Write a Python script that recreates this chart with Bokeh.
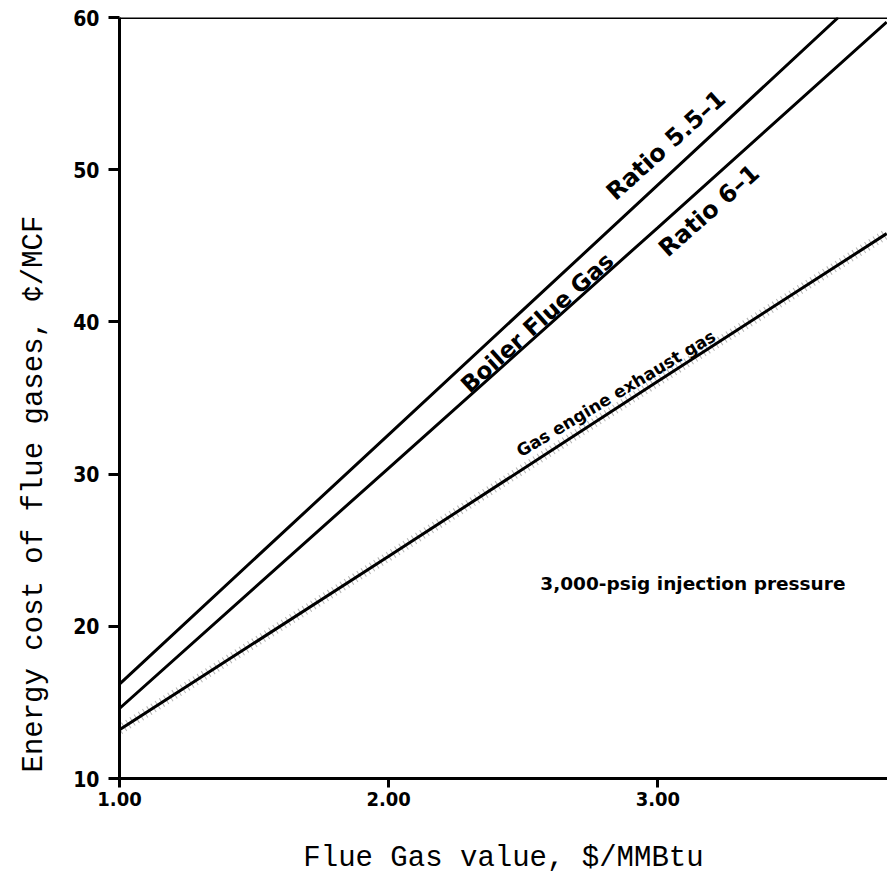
from bokeh.plotting import figure
from bokeh.models import Range1d, FixedTicker, Span, Label, Title, NumeralTickFormatter
from bokeh.embed import file_html
from bokeh.resources import INLINE

# ---- data ----
flue_gas_value = [1.0, 2.0, 3.0, 3.85]          # $/MMBtu
ratio_55_x = [1.0, 2.0, 3.0, 3.67]
ratio_55 = [16.2, 32.6, 49.0, 60.0]             # cents/MCF, Ratio 5.5-1
ratio_6 = [14.6, 30.4, 46.2, 59.7]              # cents/MCF, Ratio 6-1
gas_engine = [13.2, 24.6, 36.1, 45.8]           # cents/MCF, gas engine exhaust
x_ticks = [1.0, 2.0, 3.0]
y_ticks = [10, 20, 30, 40, 50, 60]

TICK_FONT = "'Liberation Sans Narrow', 'DejaVu Sans Condensed', 'Arial Narrow', sans-serif"
MONO = "'Liberation Mono', 'DejaVu Sans Mono', monospace"
ANN = "'DejaVu Sans', sans-serif"

p = figure(width=887, height=885,
           x_range=Range1d(1.0, 3.853), y_range=Range1d(10, 60),
           output_backend="svg", toolbar_location=None,
           min_border_left=118, min_border_right=0,
           min_border_top=17, min_border_bottom=107)
p.outline_line_color = None
p.grid.visible = False
p.background_fill_color = "white"
p.border_fill_color = "white"

# x axis
xa = p.xaxis[0]
xa.ticker = FixedTicker(ticks=x_ticks)
xa.formatter = NumeralTickFormatter(format="0.00")
xa.axis_line_width = 3
xa.major_tick_out = 9
xa.major_tick_in = 0
xa.major_tick_line_width = 3
xa.minor_tick_line_color = None
xa.major_label_text_font = TICK_FONT
xa.major_label_text_font_style = "bold"
xa.major_label_text_font_size = "20px"
xa.major_label_text_color = "black"
xa.major_label_standoff = 4
xa.axis_label = "Flue Gas value, $/MMBtu"
xa.axis_label_text_font = MONO
xa.axis_label_text_font_style = "normal"
xa.axis_label_text_font_size = "29px"
xa.axis_label_text_color = "black"
xa.axis_label_standoff = 33

# y axis
ya = p.yaxis[0]
ya.ticker = FixedTicker(ticks=y_ticks)
ya.axis_line_width = 3
ya.major_tick_out = 11
ya.major_tick_in = 0
ya.major_tick_line_width = 3
ya.minor_tick_line_color = None
ya.major_label_text_font = TICK_FONT
ya.major_label_text_font_style = "bold"
ya.major_label_text_font_size = "21px"
ya.major_label_text_color = "black"
ya.major_label_standoff = 9

# y-axis title, placed lower than the frame centre as in the reference
p.add_layout(Title(text="Energy cost of flue gases, \u00a2/MCF", align="left", offset=6,
                   standoff=35, vertical_align="top", text_font=MONO, text_font_style="normal",
                   text_font_size="29px", text_color="black"), "left")

# top border
p.add_layout(Span(location=60, dimension="width", line_color="black", line_width=3))

# lines
p.line(ratio_55_x, ratio_55, line_color="black", line_width=3)
p.line(flue_gas_value, ratio_6, line_color="black", line_width=3)
p.line(flue_gas_value, gas_engine, line_color="black", line_width=10,
       line_dash="1 4", line_alpha=0.3)
p.line(flue_gas_value, gas_engine, line_color="black", line_width=3)

# annotations
common = dict(text_align="center", text_baseline="middle", text_font=ANN,
              text_font_style="bold", text_color="black")
p.add_layout(Label(x=3.03, y=51.6, text="Ratio 5.5\u20131", angle=42, angle_units="deg",
                   text_font_size="24px", **common))
p.add_layout(Label(x=3.19, y=47.3, text="Ratio 6\u20131", angle=41.5, angle_units="deg",
                   text_font_size="24px", **common))
p.add_layout(Label(x=2.551, y=39.96, text="Boiler Flue Gas", angle=42, angle_units="deg",
                   text_font_size="23px", **common))
p.add_layout(Label(x=2.844, y=35.3, text="Gas engine exhaust gas", angle=31, angle_units="deg",
                   text_font_size="17px", **common))
p.add_layout(Label(x=3.13, y=22.8, text="3,000-psig injection pressure",
                   text_font_size="18.5px", **common))

open("out.html", "w").write(file_html(p, INLINE))
